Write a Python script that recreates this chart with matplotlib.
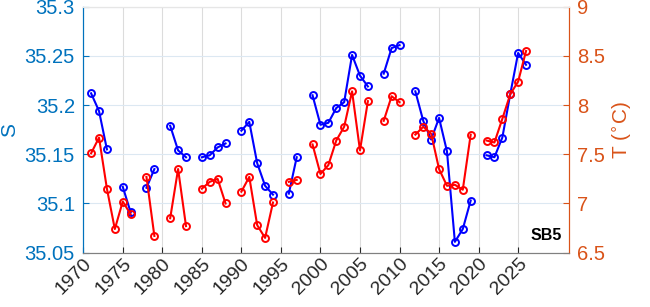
import numpy as np
import matplotlib.pyplot as plt
from matplotlib.transforms import ScaledTranslation

plt.rcParams['font.family'] = ['Liberation Sans', 'DejaVu Sans']

years = np.arange(1971, 2027)
nan = np.nan
salinity = [35.212, 35.194, 35.155, nan, 35.117, 35.091, nan, 35.116, 35.135, nan,
            35.179, 35.154, 35.147, nan, 35.147, 35.149, 35.157, 35.161, nan, 35.174,
            35.183, 35.141, 35.118, 35.109, nan, 35.110, 35.147, nan, 35.210, 35.180,
            35.182, 35.197, 35.203, 35.251, 35.230, 35.219, nan, 35.232, 35.258, 35.261,
            nan, 35.214, 35.184, 35.165, 35.187, 35.153, 35.061, 35.074, 35.103, nan,
            35.149, 35.147, 35.167, 35.211, 35.253, 35.241]
temperature = [7.51, 7.67, 7.15, 6.74, 7.02, 6.89, nan, 7.27, 6.67, nan,
               6.85, 7.35, 6.77, nan, 7.15, 7.22, 7.25, 7.00, nan, 7.12,
               7.27, 6.78, 6.65, 7.01, nan, 7.22, 7.24, nan, 7.60, 7.30,
               7.39, 7.64, 7.78, 8.14, 7.54, 8.04, nan, 7.84, 8.09, 8.03,
               nan, 7.70, 7.78, 7.71, 7.35, 7.18, 7.19, 7.14, 7.70, nan,
               7.64, 7.62, 7.86, 8.11, 8.24, 8.55]
xticks = np.arange(1970, 2030, 5)
s_ticks = [35.05, 35.1, 35.15, 35.2, 35.25, 35.3]
s_ticklabels = ['35.05', '35.1', '35.15', '35.2', '35.25', '35.3']
t_ticks = [6.5, 7, 7.5, 8, 8.5, 9]
t_ticklabels = ['6.5', '7', '7.5', '8', '8.5', '9']

blue_ax = '#0072bd'
orange_ax = '#d95319'
dark = '#262626'

fig = plt.figure(figsize=(6.5, 3.07), dpi=100)
ax = fig.add_axes([0.128, 0.177, 0.747, 0.801])
ax2 = ax.twinx()

ax.plot(years, salinity, '-o', color='b', lw=1.5, ms=5, mfc='none', mew=1.4)
ax2.plot(years, temperature, '-o', color='r', lw=1.5, ms=5, mfc='none', mew=1.4)

ax.set_xlim(1970, 2031.4)
ax.set_ylim(35.05, 35.3)
ax2.set_ylim(6.5, 9)

ax.set_xticks(xticks)
ax.set_xticklabels([str(y) for y in xticks], rotation=45, ha='right', va='top',
                   rotation_mode='anchor', fontsize=14, color=dark)
off = ScaledTranslation(0.19, -0.23, fig.dpi_scale_trans)
for lab in ax.get_xticklabels():
    lab.set_transform(lab.get_transform() + off)

ax.set_yticks(s_ticks)
ax.set_yticklabels(s_ticklabels, fontsize=14.5, color=blue_ax)
ax2.set_yticks(t_ticks)
ax2.set_yticklabels(t_ticklabels, fontsize=14.5, color=orange_ax)

ax.tick_params(axis='x', direction='in', length=4, color=dark, pad=2)
ax.tick_params(axis='y', direction='in', length=4, color=blue_ax, pad=6)
ax2.tick_params(axis='y', direction='in', length=4, color=orange_ax, pad=6)

ax.xaxis.grid(True, color='#dcdcdc', lw=0.8)
ax.yaxis.grid(True, color='#dce8f2', lw=0.8)
ax.set_axisbelow(True)

for a in (ax, ax2):
    a.spines['left'].set_color(blue_ax)
    a.spines['right'].set_color(orange_ax)
    a.spines['top'].set_color('#e6e6e6')
    a.spines['bottom'].set_color('#808080')

ax.set_ylabel('S', fontsize=15, color=blue_ax, labelpad=4)
ax2.set_ylabel('T ($^{\\circ}$C)', fontsize=15, color=orange_ax, labelpad=4)

ax.text(0.985, 0.07, 'SB5', transform=ax.transAxes, ha='right', va='center',
        fontsize=11.5, fontweight='bold', color='black')

fig.savefig('out.png', dpi=100)
